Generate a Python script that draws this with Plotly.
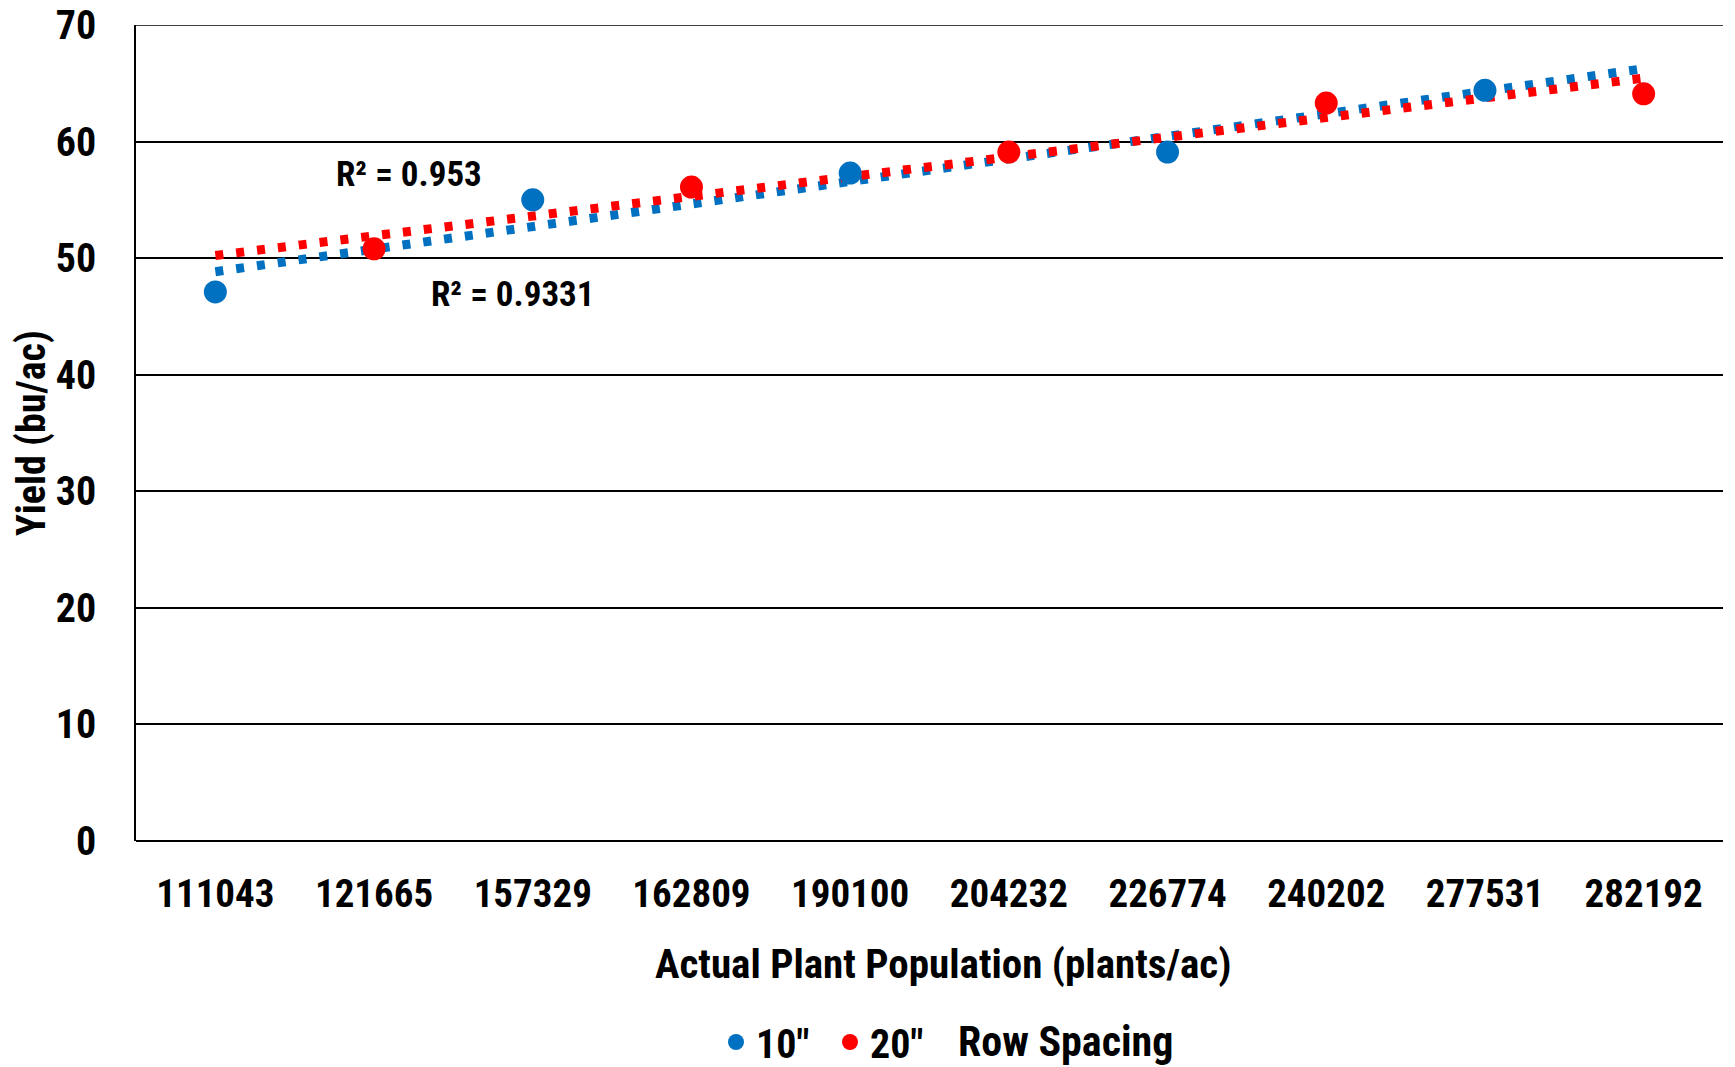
import numpy as np
import plotly.graph_objects as go

categories = ["111043", "121665", "157329", "162809", "190100",
              "204232", "226774", "240202", "277531", "282192"]
blue_idx = [0, 2, 4, 6, 8]
blue_y = [47.1, 55.0, 57.3, 59.1, 64.4]
red_idx = [1, 3, 5, 7, 9]
red_y = [50.8, 56.1, 59.1, 63.3, 64.1]
r2_labels = ["R² = 0.953", "R² = 0.9331"]
y_ticks = [0, 10, 20, 30, 40, 50, 60, 70]

BLUE = "#0070C0"
RED = "#FF0000"
FONT = "Roboto Condensed, Liberation Sans, Arial"

# page body has an 8px margin; the figure is sized to fit the 1735x1067 window
W, H = 1727, 1059
PL, PR, PT, PB = 128, 12, 17, 225.5
PW, PH = W - PL - PR, H - PT - PB

fig = go.Figure()

# Excel-style linear trendlines on the category index, spanning the full axis
for idx, ys, col in [(blue_idx, blue_y, BLUE), (red_idx, red_y, RED)]:
    m, b = np.polyfit(idx, ys, 1)
    xs = [0, len(categories) - 1]
    fig.add_trace(go.Scatter(
        x=[categories[i] for i in xs], y=[m * i + b for i in xs],
        mode="lines", line=dict(color=col, width=9, dash="8px,13px"),
        showlegend=False, hoverinfo="skip"))

fig.add_trace(go.Scatter(
    x=[categories[i] for i in blue_idx], y=blue_y, mode="markers",
    marker=dict(color=BLUE, size=23), name='10"'))
fig.add_trace(go.Scatter(
    x=[categories[i] for i in red_idx], y=red_y, mode="markers",
    marker=dict(color=RED, size=23), name='20"'))

# top gridline at the axis maximum (plotly omits gridlines at the range edge)
fig.add_shape(type="line", xref="paper", yref="y", x0=0, x1=1,
              y0=y_ticks[-1], y1=y_ticks[-1], layer="below",
              line=dict(color="black", width=1.5))

fig.add_annotation(x=1.22, y=57.2, xref="x", yref="y", text=r2_labels[0],
                   showarrow=False,
                   font=dict(family=FONT, size=35, color="black", weight="bold"))
fig.add_annotation(x=1.875, y=46.9, xref="x", yref="y", text=r2_labels[1],
                   showarrow=False,
                   font=dict(family=FONT, size=35, color="black", weight="bold"))
# x-axis title (offset slightly right of the plot centre, as in the original)
fig.add_annotation(x=(935.3 - PL) / PW, y=(H - PB - 957) / PH,
                   xref="paper", yref="paper",
                   text="Actual Plant Population (plants/ac)",
                   showarrow=False, xanchor="center", yanchor="middle",
                   font=dict(family=FONT, size=41, color="black", weight="bold"))
fig.add_annotation(x=(1057.5 - PL) / PW, y=(H - PB - 1034) / PH,
                   xref="paper", yref="paper", text="Row Spacing",
                   showarrow=False, xanchor="center", yanchor="middle",
                   font=dict(family=FONT, size=42, color="black", weight="bold"))

fig.update_layout(
    width=W, height=H,
    margin=dict(l=PL, r=PR, t=PT, b=PB),
    paper_bgcolor="white", plot_bgcolor="white",
    font=dict(family=FONT, color="black", weight="bold"),
    showlegend=True,
    legend=dict(orientation="h", xref="container", yref="container",
                x=708 / W, xanchor="left",
                y=1 - 1034 / H, yanchor="middle", entrywidth=69,
                font=dict(family=FONT, size=40, color="black", weight="bold"),
                itemsizing="trace", bgcolor="rgba(0,0,0,0)"),
    xaxis=dict(type="category", categoryorder="array", categoryarray=categories,
               range=[-0.5, len(categories) - 0.5], automargin=False,
               showgrid=False, showline=False, zeroline=False,
               ticks="", ticklabelstandoff=26,
               tickfont=dict(family=FONT, size=39, color="black", weight="bold")),
    yaxis=dict(range=[0, 70], tickvals=y_ticks, showgrid=True, automargin=False,
               gridcolor="black", gridwidth=1.5, ticklabeloverflow="allow",
               showline=True, linecolor="black", linewidth=1.5,
               zeroline=True, zerolinecolor="black", zerolinewidth=1.5,
               ticks="", ticklabelstandoff=30,
               tickfont=dict(family=FONT, size=40, color="black", weight="bold"),
               title=dict(text="Yield (bu/ac)", standoff=14,
                          font=dict(family=FONT, size=40, color="black", weight="bold"))),
)

fig.write_html("out.html")
